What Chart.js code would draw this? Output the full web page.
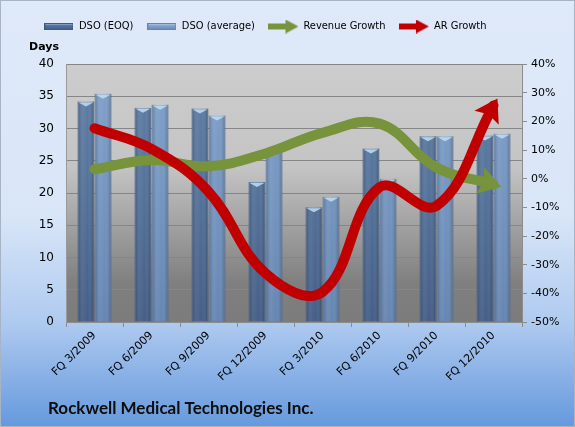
<!DOCTYPE html>
<html lang="en">
<head>
<meta charset="UTF-8">
<title>Rockwell Medical Technologies Inc. - DSO</title>
<script src="https://cdn.jsdelivr.net/npm/chart.js"></script>
<style>
  html, body { margin: 0; padding: 0; background: #fff; }
  #wrap { width: 575px; height: 427px; position: relative; }
</style>
</head>
<body>
<div id="wrap"><canvas id="dsoChart"></canvas></div>
<script>
// values
const categories = ['FQ 3/2009', 'FQ 6/2009', 'FQ 9/2009', 'FQ 12/2009',
                    'FQ 3/2010', 'FQ 6/2010', 'FQ 9/2010', 'FQ 12/2010'];
const dsoEoq = [34.2, 33.2, 33.1, 21.7, 17.8, 26.9, 28.8, 28.9];
const dsoAvg = [35.4, 33.7, 32.0, 26.5, 19.4, 22.2, 28.8, 29.2];
const revenueGrowth = [3.3, 6.5, 4.3, 8.8, 16.0, 19.2, 3.9, -2.0];
const arGrowth = [17.6, 10.4, -4.5, -33.0, -39.5, -3.0, -9.5, 25.5];
const daysTicks = [0, 40, 5];      // min, max, step
const pctTicks = [-50, 40, 10];
const chartTitle = 'Rockwell Medical Technologies Inc.';

const FONT = '"DejaVu Sans", Verdana, sans-serif';
const LEGEND_FONT = '"DejaVu Sans Condensed", "DejaVu Sans", sans-serif';
const GREEN = '#77933c';
const RED = '#c00000';

// little canvases used as legend icons
function barIcon(fill, edge) {
    const c = document.createElement('canvas');
    c.width = 29; c.height = 7;
    const x = c.getContext('2d');
    const g = x.createLinearGradient(0, 0, 0, 7);
    g.addColorStop(0, '#c9dbf2'); g.addColorStop(0.35, fill); g.addColorStop(1, edge);
    x.fillStyle = g; x.fillRect(0, 0, 29, 7);
    x.strokeStyle = edge; x.strokeRect(0.5, 0.5, 28, 6);
    return c;
}
function arrowIcon(color) {
    const c = document.createElement('canvas');
    c.width = 30; c.height = 14;
    const x = c.getContext('2d');
    x.fillStyle = color;
    x.fillRect(0, 4, 20, 6);
    x.beginPath(); x.moveTo(17, 0); x.lineTo(30, 7); x.lineTo(17, 14); x.closePath(); x.fill();
    return c;
}
const legendIcons = [barIcon('#55759f', '#3e5a82'), barIcon('#86a7d2', '#6385b2'),
                     arrowIcon(GREEN), arrowIcon(RED)];

function barFill(top, mid, bottom) {
    return (ctx) => {
        const a = ctx.chart.chartArea;
        if (!a) return mid;
        const g = ctx.chart.ctx.createLinearGradient(0, a.top, 0, a.bottom);
        g.addColorStop(0, top); g.addColorStop(0.5, mid); g.addColorStop(1, bottom);
        return g;
    };
}

function drawBarShading(ctx, bars) {
    bars.forEach(b => {
        const l = b.x - b.width / 2, r = b.x + b.width / 2;
        const g = ctx.createLinearGradient(l, 0, r, 0);
        g.addColorStop(0, 'rgba(20,35,60,0.30)');
        g.addColorStop(0.35, 'rgba(255,255,255,0.10)');
        g.addColorStop(0.6, 'rgba(255,255,255,0.05)');
        g.addColorStop(1, 'rgba(20,35,60,0.35)');
        ctx.fillStyle = g;
        ctx.fillRect(l, b.y, b.width, b.base - b.y);
        ctx.fillStyle = 'rgba(190,225,245,0.85)';
        ctx.beginPath();
        ctx.moveTo(l + 1, b.y + 1);
        ctx.lineTo(r - 1, b.y + 1);
        ctx.lineTo(b.x, b.y + 5);
        ctx.closePath();
        ctx.fill();
    });
}

function drawArrowHead(ctx, pts, color) {
    const p = pts[pts.length - 1];
    let dx = p.x - p.cp1x, dy = p.y - p.cp1y;
    const len = Math.hypot(dx, dy) || 1;
    dx /= len; dy /= len;
    const tipX = p.x + dx * 8, tipY = p.y + dy * 8;
    const bx = tipX - dx * 22, by = tipY - dy * 22;
    ctx.fillStyle = color;
    ctx.beginPath();
    ctx.moveTo(tipX, tipY);
    ctx.lineTo(bx - dy * 14, by + dx * 14);
    ctx.lineTo(bx + dx * 4, by + dy * 4);
    ctx.lineTo(bx + dy * 14, by - dx * 14);
    ctx.closePath();
    ctx.fill();
}

const decor = {
    id: 'decor',
    afterInit(chart) {
        const lg = chart.legend;
        if (lg && !lg._tuned) {
            // leave room under the legend for the "Days" caption
            const fit = lg.fit;
            lg.fit = function () { fit.call(this); this.height += 22; };
            // the legend sits a little left of centre
            const draw = lg.draw;
            lg.draw = function () {
                const c = this.ctx;
                c.save(); c.translate(-22, 0);
                draw.apply(this, arguments);
                c.restore();
            };
            lg._tuned = true;
        }
    },
    beforeDraw(chart) {
        const {ctx, width, height, chartArea: a} = chart;
        ctx.save();
        let g = ctx.createLinearGradient(0, 0, 0, height);
        g.addColorStop(0, '#dfe9f8');
        g.addColorStop(0.5, '#d9e6f8');
        g.addColorStop(0.75, '#b0cbf0');
        g.addColorStop(1, '#6599dd');
        ctx.fillStyle = g;
        ctx.fillRect(0, 0, width, height);
        ctx.strokeStyle = '#a7b4c6';
        ctx.strokeRect(0.5, 0.5, width - 1, height - 1);

        g = ctx.createLinearGradient(0, a.top, 0, a.bottom);
        g.addColorStop(0, '#cdcdcd');
        g.addColorStop(0.4, '#c4c4c4');
        g.addColorStop(0.85, '#7f7f7f');
        g.addColorStop(1, '#7c7c7c');
        ctx.fillStyle = g;
        ctx.fillRect(a.left, a.top, a.right - a.left, a.bottom - a.top);

        ctx.fillStyle = '#000';
        ctx.font = 'bold 11px ' + FONT;
        ctx.textBaseline = 'middle';
        ctx.fillText('Days', 29, 47);
        ctx.restore();
    },
    afterDatasetDraw(chart, args) {
        const ds = chart.data.datasets[args.index];
        const ctx = chart.ctx;
        ctx.save();
        if (ds.type === 'bar') drawBarShading(ctx, args.meta.data);
        else drawArrowHead(ctx, args.meta.data, ds.borderColor);
        ctx.restore();
    },
    afterDraw(chart) {
        const ctx = chart.ctx;
        ctx.save();
        ctx.fillStyle = '#0d0d0d';
        ctx.font = 'bold 17px Lato, "Open Sans", sans-serif';
        ctx.textBaseline = 'middle';
        ctx.fillText(chartTitle, 48, 409);
        ctx.restore();
    }
};

new Chart(document.getElementById('dsoChart'), {
    data: {
        labels: categories,
        datasets: [
            {
                type: 'bar', label: 'DSO (EOQ)', data: dsoEoq, yAxisID: 'y', order: 2,
                backgroundColor: barFill('#5a7aa3', '#4a6a94', '#3b5580'),
                borderColor: '#6f8db4', borderWidth: 1,
                categoryPercentage: 0.6, barPercentage: 0.98
            },
            {
                type: 'bar', label: 'DSO (average)', data: dsoAvg, yAxisID: 'y', order: 2,
                backgroundColor: barFill('#7c9dc8', '#6d90bd', '#5d7fad'),
                borderColor: '#8eaad0', borderWidth: 1,
                categoryPercentage: 0.6, barPercentage: 0.98
            },
            {
                type: 'line', label: 'Revenue Growth', data: revenueGrowth, yAxisID: 'y1', order: 1,
                borderColor: GREEN, borderWidth: 10, tension: 0.4,
                borderCapStyle: 'round', pointRadius: 0, fill: false
            },
            {
                type: 'line', label: 'AR Growth', data: arGrowth, yAxisID: 'y1', order: 0,
                borderColor: RED, borderWidth: 10, tension: 0.4,
                borderCapStyle: 'round', pointRadius: 0, fill: false
            }
        ]
    },
    options: {
        responsive: true,
        maintainAspectRatio: false,
        animation: false,
        layout: { padding: { top: 7, left: 0, right: 0, bottom: 34 } },
        plugins: {
            tooltip: { enabled: false },
            title: { display: false },
            legend: {
                position: 'top',
                labels: {
                    usePointStyle: true,
                    pointStyleWidth: 29,
                    padding: 14,
                    color: '#000',
                    font: { family: LEGEND_FONT, size: 11 },
                    sort: (a, b) => a.datasetIndex - b.datasetIndex,
                    generateLabels(chart) {
                        const items = Chart.defaults.plugins.legend.labels.generateLabels(chart);
                        items.forEach(it => { it.pointStyle = legendIcons[it.datasetIndex]; });
                        return items;
                    }
                }
            }
        },
        scales: {
            x: {
                offset: true,
                grid: { display: true, drawOnChartArea: false, offset: true, color: '#8c8c8c', tickLength: 5 },
                border: { color: '#8c8c8c' },
                ticks: { color: '#000', font: { family: FONT, size: 11 }, minRotation: 45, maxRotation: 45, padding: 2 },
                afterFit(s) { s.height = 71; }
            },
            y: {
                position: 'left',
                min: daysTicks[0], max: daysTicks[1],
                ticks: { stepSize: daysTicks[2], color: '#000', font: { family: FONT, size: 12 }, padding: 12 },
                grid: { color: '#868686', tickLength: 0 },
                border: { color: '#9a9a9a' },
                afterFit(s) { s.width = 66; }
            },
            y1: {
                position: 'right',
                min: pctTicks[0], max: pctTicks[1],
                ticks: { stepSize: pctTicks[2], color: '#000', font: { family: FONT, size: 11 },
                         callback: v => v + '%', padding: 4 },
                grid: { drawOnChartArea: false, color: '#8c8c8c', tickLength: 5 },
                border: { color: '#8c8c8c' },
                afterFit(s) { s.width = 53; }
            }
        }
    },
    plugins: [decor]
});
</script>
</body>
</html>
